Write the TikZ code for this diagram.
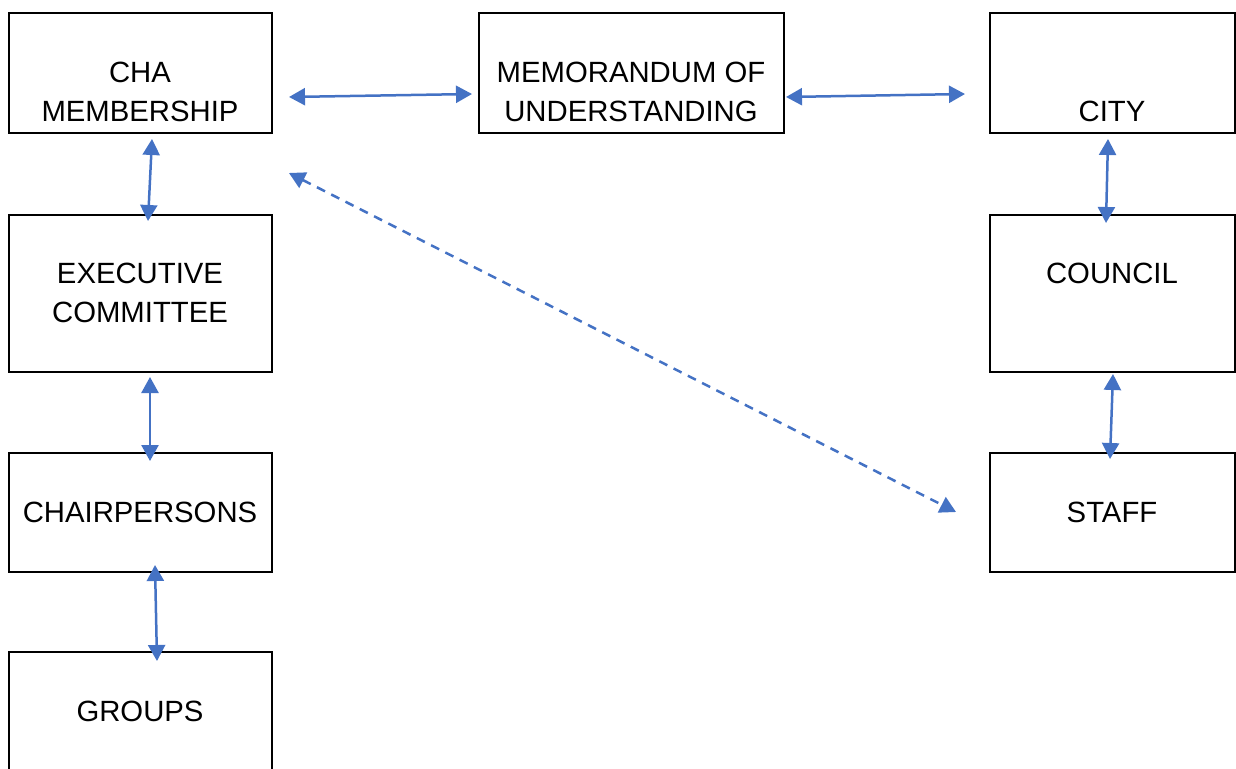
\documentclass[tikz,border=0pt]{standalone}
\usepackage{fontspec}
\setmainfont{Liberation Sans}
\usetikzlibrary{arrows.meta}
\definecolor{arrowblue}{HTML}{4472C4}
\tikzset{
  box/.style={draw=black, line width=2pt},
  lbl/.style={anchor=base, align=center, inner sep=0pt, font=\fontsize{29.3}{39}\selectfont},
  link/.style={draw=arrowblue, line width=2.5pt, {Triangle[width=17pt,length=16pt]}-{Triangle[width=17pt,length=16pt]}},
  dlink/.style={link, dash pattern=on 9pt off 7pt}
}
\begin{document}
\begin{tikzpicture}[x=1pt,y=-1pt]
\useasboundingbox (0,0) rectangle (1236,768);
\clip (0,0) rectangle (1236,768);
% boxes
\draw[box] (9,13) rectangle (272,133) node[midway] (cha) {};
\draw[box] (479,13) rectangle (784,133) node[midway] (mou) {};
\draw[box] (990,13) rectangle (1235,133) node[midway] (city) {};
\draw[box] (9,215) rectangle (272,372) node[midway] (exec) {};
\draw[box] (990,215) rectangle (1235,372) node[midway] (council) {};
\draw[box] (9,453) rectangle (272,572) node[midway] (chair) {};
\draw[box] (990,453) rectangle (1235,572) node[midway] (staff) {};
\draw[box] (9,652) rectangle (272,800) node[midway] (groups) {};
% labels (anchor base = baseline of last line)
\node[lbl] (tcha) at (140,121) {CHA\\MEMBERSHIP};
\node[lbl] (tmou) at (631,121) {MEMORANDUM OF\\UNDERSTANDING};
\node[lbl] (tcity) at (1112,121) {CITY};
\node[lbl] (texec) at (140,322) {EXECUTIVE\\COMMITTEE};
\node[lbl] (tcouncil) at (1112,283) {COUNCIL};
\node[lbl] (tchair) at (140,522) {CHAIRPERSONS};
\node[lbl] (tstaff) at (1112,522) {STAFF};
\node[lbl] (tgroups) at (140,721) {GROUPS};
% connector ends
\coordinate (a1) at (289,97); \coordinate (a2) at (472,94);
\coordinate (b1) at (786,97); \coordinate (b2) at (965,94);
\coordinate (c1) at (152,139); \coordinate (c2) at (148,221);
\coordinate (d1) at (150,377); \coordinate (d2) at (150,461);
\coordinate (e1) at (155,565); \coordinate (e2) at (157,661);
\coordinate (f1) at (1108,139); \coordinate (f2) at (1106,223);
\coordinate (g1) at (1113,374); \coordinate (g2) at (1110,459);
\coordinate (h1) at (289,173); \coordinate (h2) at (956,512);
\draw[link] (a1) -- (a2);
\draw[link] (b1) -- (b2);
\draw[link] (c1) -- (c2);
\draw[link] (d1) -- (d2);
\draw[link] (e1) -- (e2);
\draw[link] (f1) -- (f2);
\draw[link] (g1) -- (g2);
\draw[dlink] (h1) -- (h2);
\end{tikzpicture}
\end{document}
